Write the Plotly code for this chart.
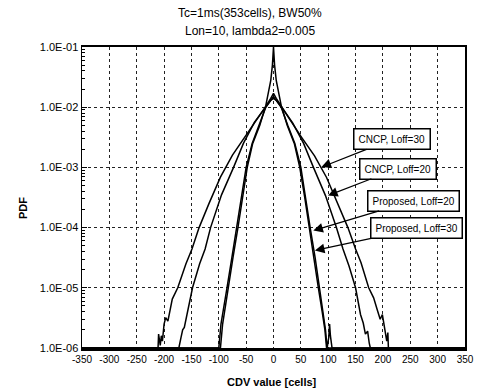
import plotly.graph_objects as go

# ---- data ----
cncp30_x = [-350, -211, -210, -207, -205, -203, -200, -197, -193, -190, -185, -175, -160, -149, -136, -118, -97, -75, -52, -30, -15, -5, 0,
            5, 15, 30, 52, 75, 97, 118, 136, 150, 160, 174, 183, 190, 195, 199, 203, 207, 209, 210, 350]
cncp30_y = [1e-6, 1e-6, 1.7e-6, 1.1e-6, 1.6e-6, 1.3e-6, 2.5e-6, 3.2e-6, 2.8e-6, 4.0e-6, 6.5e-6, 1.0e-5, 2.5e-5, 4.4e-5, 1.0e-4, 2.5e-4, 6.9e-4, 1.6e-3, 3.2e-3, 6.3e-3, 1.0e-2, 1.4e-2, 1.7e-2,
            1.4e-2, 1.0e-2, 6.2e-3, 3.1e-3, 1.55e-3, 6.8e-4, 2.4e-4, 1.0e-4, 4.4e-5, 2.6e-5, 1.0e-5, 6.8e-6, 4.2e-6, 3.0e-6, 3.6e-6, 2.0e-6, 1.3e-6, 1.8e-6, 1.0e-6, 1e-6]

cncp20_x = [-350, -173, -169, -166, -163, -160, -157, -148, -135, -125, -115, -95, -73, -55, -35, -15, -5, 0,
            5, 15, 35, 55, 73, 95, 115, 127, 138, 150, 159, 164, 168, 172, 175, 177, 350]
cncp20_y = [1e-6, 1e-6, 1.5e-6, 2.0e-6, 2.2e-6, 3.0e-6, 4.2e-6, 1.0e-5, 2.5e-5, 4.4e-5, 1.0e-4, 3.5e-4, 1.0e-3, 2.5e-3, 5.6e-3, 1.0e-2, 1.3e-2, 1.5e-2,
            1.3e-2, 1.0e-2, 5.5e-3, 2.5e-3, 1.0e-3, 3.4e-4, 1.0e-4, 4.4e-5, 2.3e-5, 1.0e-5, 3.6e-6, 2.6e-6, 1.7e-6, 1.9e-6, 1.2e-6, 1.0e-6, 1e-6]

prop30_x = [-350, -97, -93, -88, -82, -74, -65, -57, -48, -38, -25, -14, -5, -2, 0,
            2, 5, 14, 25, 38, 48, 57, 65, 74, 82, 89, 94, 97, 350]
prop30_y = [1e-6, 1e-6, 2.5e-6, 5e-6, 1e-5, 3.2e-5, 1e-4, 3.2e-4, 1e-3, 2.5e-3, 5e-3, 1.07e-2, 2.8e-2, 5e-2, 1.0e-1,
            5e-2, 2.8e-2, 1.07e-2, 5e-3, 2.5e-3, 1e-3, 3.2e-4, 1e-4, 3.2e-5, 1e-5, 4e-6, 2e-6, 1e-6, 1e-6]

prop20_x = [-350, -100, -96, -90, -85, -76, -67, -58, -50, -39, -26, -14, -5, 0,
            5, 14, 26, 39, 50, 58, 67, 76, 84, 91, 95, 98, 101, 102.5, 104, 107, 350]
prop20_y = [1e-6, 1e-6, 2.5e-6, 5e-6, 1e-5, 3.2e-5, 1e-4, 3.2e-4, 1e-3, 2.5e-3, 5e-3, 1.0e-2, 1.3e-2, 1.4e-2,
            1.3e-2, 1.0e-2, 5e-3, 2.5e-3, 1e-3, 3.2e-4, 1e-4, 3.2e-5, 1e-5, 4e-6, 2e-6, 1e-6, 1.5e-6, 2.5e-6, 1.6e-6, 1e-6, 1e-6]

series_names = ["CNCP, Loff=30", "CNCP, Loff=20", "Proposed, Loff=20", "Proposed, Loff=30"]
x_ticks = list(range(-350, 351, 50))
y_tickvals = [1e-6, 1e-5, 1e-4, 1e-3, 1e-2, 1e-1]
y_ticktext = ["1.0E-06", "1.0E-05", "1.0E-04", "1.0E-03", "1.0E-02", "1.0E-01"]
title_lines = ["Tc=1ms(353cells), BW50%", "Lon=10, lambda2=0.005"]
x_title = "CDV value [cells]"
y_title = "PDF"

FONT = "Liberation Sans, Arial, sans-serif"

fig = go.Figure()
for xs, ys, nm in [(cncp30_x, cncp30_y, series_names[0]), (cncp20_x, cncp20_y, series_names[1]),
                   (prop20_x, prop20_y, series_names[2]), (prop30_x, prop30_y, series_names[3])]:
    fig.add_trace(go.Scatter(x=xs, y=ys, mode="lines", name=nm,
                             line=dict(color="black", width=1.5), showlegend=False))

minor_vals = [m * 10 ** e for e in range(-6, -1) for m in range(2, 10)]

fig.update_layout(
    width=486, height=389,
    margin=dict(l=82, r=14, t=47, b=41),
    paper_bgcolor="white", plot_bgcolor="white",
    font=dict(family=FONT, color="black", size=10),
    hovermode=False,
    xaxis=dict(range=[-350, 350], tickmode="array", tickvals=x_ticks,
               ticktext=[str(v) for v in x_ticks],
               showgrid=True, gridcolor="#222", griddash="dot", gridwidth=1,
               zeroline=False, showline=True, linecolor="black", linewidth=2.5,
               mirror=True, ticks="", tickfont=dict(size=10)),
    yaxis=dict(type="log", range=[-6, -1], tickmode="array", tickvals=y_tickvals,
               ticktext=y_ticktext,
               showgrid=True, gridcolor="#222", griddash="dot", gridwidth=1,
               zeroline=False, showline=True, linecolor="black", linewidth=1.5,
               mirror=True, ticks="inside", ticklen=5, tickcolor="black",
               tickfont=dict(size=11),
               minor=dict(tickmode="array", tickvals=minor_vals, ticks="inside",
                          ticklen=3, tickcolor="black", showgrid=False)),
)

# titles
fig.add_annotation(text=title_lines[0], xref="paper", yref="paper", x=0.4385, y=1.113,
                   showarrow=False, font=dict(size=12), xanchor="center", yanchor="middle")
fig.add_annotation(text=title_lines[1], xref="paper", yref="paper", x=0.4385, y=1.053,
                   showarrow=False, font=dict(size=12), xanchor="center", yanchor="middle")
fig.add_annotation(text="<b>" + x_title + "</b>", xref="paper", yref="paper", x=0.495, y=-0.113,
                   showarrow=False, font=dict(size=11), xanchor="center", yanchor="middle")
fig.add_annotation(text="<b>" + y_title + "</b>", xref="paper", yref="paper", x=-0.154, y=0.465,
                   showarrow=False, font=dict(size=11), textangle=-90, xanchor="center", yanchor="middle")

# labelled arrows (tip in data coords, tail offset in pixels)
arrows = [
    (series_names[0], 87.7, -2.995, 71, -28),
    (series_names[1], 99.6, -3.467, 70, -27),
    (series_names[2], 72.8, -4.05, 100, -30),
    (series_names[3], 75.7, -4.38, 102, -22),
]
for txt, tx, ty, ax, ay in arrows:
    fig.add_annotation(text=txt, x=tx, y=ty, xref="x", yref="y", ax=ax, ay=ay,
                       showarrow=True, arrowhead=2, arrowsize=1.6, arrowwidth=1.2,
                       arrowcolor="black", bgcolor="white", bordercolor="black",
                       borderwidth=1.5, borderpad=4, font=dict(size=10))

fig.write_html("out.html", config={"displayModeBar": False, "staticPlot": True},
               post_script="document.body.style.margin='0px';document.body.style.overflow='hidden';")
